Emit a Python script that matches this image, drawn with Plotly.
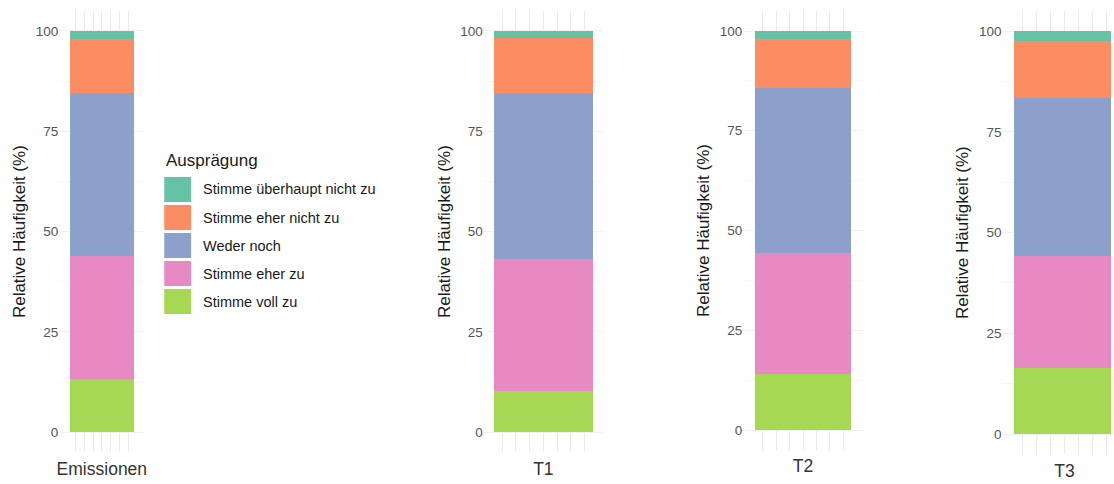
import plotly.graph_objects as go

# ---- data -------------------------------------------------------------
groups = ["Emissionen", "T1", "T2", "T3"]
categories = [
    "Stimme überhaupt nicht zu",
    "Stimme eher nicht zu",
    "Weder noch",
    "Stimme eher zu",
    "Stimme voll zu",
]
ueberhaupt_nicht = [2.1, 1.8, 2.1, 2.5]
eher_nicht = [13.4, 13.6, 12.1, 14.1]
weder_noch = [40.6, 41.4, 41.5, 39.1]
eher_zu = [30.7, 32.9, 30.3, 27.9]
voll_zu = [13.2, 10.3, 14.0, 16.4]
series = [ueberhaupt_nicht, eher_nicht, weder_noch, eher_zu, voll_zu]
y_ticks = [0, 25, 50, 75, 100]

# ---- styling ------------------------------------------------------------
colors = ["#66C2A5", "#FC8D62", "#8DA0CB", "#E78AC3", "#A6D854"]
FONT = "Liberation Sans, Arial, sans-serif"
W, H = 1114, 484
BAR_W = 0.9
GRID_V = "#EBEBEB"
GRID_H = "#F1F1F1"
GRID_H_MINOR = "#F7F7F7"

# panel geometry in pixels: bar left/right, panel left/right, value 100 / value 0 rows
panels_px = [
    dict(bl=68.3, br=132.3, pl=57.5, pr=143.0, top=31.0, zero=432.3),
    dict(bl=494.3, br=593.3, pl=484.0, pr=604.0, top=31.0, zero=432.3),
    dict(bl=756.0, br=853.3, pl=744.5, pr=864.5, top=31.0, zero=430.0),
    dict(bl=1016.5, br=1118.0, pl=1005.0, pr=1114.0, top=31.3, zero=434.0),
]


def fx(px):
    return px / W


def fy(py):
    return 1 - py / H


fig = go.Figure()
layout = dict(
    width=W, height=H,
    margin=dict(l=0, r=0, t=0, b=0, pad=0),
    paper_bgcolor="white", plot_bgcolor="white",
    barmode="stack", showlegend=False,
    font=dict(family=FONT),
)

for i, (name, g) in enumerate(zip(groups, panels_px)):
    k = "" if i == 0 else str(i + 1)
    # stack from bottom (Stimme voll zu) to top
    for cat, vals, col in reversed(list(zip(categories, series, colors))):
        fig.add_trace(go.Bar(
            x=[name], y=[vals[i]], name=cat, width=BAR_W,
            marker=dict(color=col, line=dict(width=0)),
            xaxis="x" + k, yaxis="y" + k, showlegend=False,
            hovertemplate=cat + ": %{y}%<extra></extra>",
        ))

    ppu = (g["br"] - g["bl"]) / BAR_W
    c = (g["bl"] + g["br"]) / 2
    xr = [(g["pl"] - c) / ppu, (g["pr"] - c) / ppu]
    s = (g["zero"] - g["top"]) / 100.0
    d_top = g["top"] - 5 * s
    d_bot = g["zero"] + 5 * s

    layout["xaxis" + k] = dict(
        domain=[fx(g["pl"]), min(1.0, fx(g["pr"]))],
        anchor="y" + k, type="category", range=xr,
        showgrid=False, zeroline=False, showline=False, ticks="",
        tickfont=dict(size=17.5, color="#333333", family=FONT),
        ticklabelstandoff=4,
        minor=dict(tickvals=[j * 0.125 for j in range(-3, 4)], showgrid=True,
                   gridcolor=GRID_V, gridwidth=1, ticks=""),
        fixedrange=True,
    )
    layout["yaxis" + k] = dict(
        domain=[fy(d_bot), fy(d_top)],
        anchor="x" + k, range=[-5, 105],
        tickvals=y_ticks, ticktext=[str(v) for v in y_ticks],
        tickfont=dict(size=13.5, color="#555555", family=FONT),
        showgrid=True, gridcolor=GRID_H, gridwidth=1,
        minor=dict(dtick=12.5, tick0=0, showgrid=True, gridcolor=GRID_H_MINOR,
                   gridwidth=0.6, ticks=""),
        zeroline=False, showline=False, ticks="",
        title=dict(text="Relative Häufigkeit (%)",
                   font=dict(size=17, color="#1A1A1A", family=FONT),
                   standoff=5),
        fixedrange=True,
    )

fig.update_layout(**layout)

# ---- legend (drawn beside the first panel) ---------------------------------
LEG_X, LEG_TITLE_Y = 163, 161
KEY_TOP, KEY_W, KEY_H, KEY_PITCH = 177, 27, 25, 28
TEXT_X = 200

fig.add_annotation(
    x=fx(LEG_X), y=fy(LEG_TITLE_Y), xref="paper", yref="paper",
    text="Ausprägung", showarrow=False, xanchor="left", yanchor="middle",
    font=dict(size=17, color="#1A1A1A", family=FONT),
)
for j, (cat, col) in enumerate(zip(categories, colors)):
    y0 = KEY_TOP + j * KEY_PITCH
    fig.add_shape(
        type="rect", xref="paper", yref="paper",
        x0=fx(LEG_X), x1=fx(LEG_X + KEY_W), y0=fy(y0 + KEY_H), y1=fy(y0),
        fillcolor=col, line=dict(width=0), layer="above",
    )
    fig.add_annotation(
        x=fx(TEXT_X), y=fy(y0 + KEY_H / 2), xref="paper", yref="paper",
        text=cat, showarrow=False, xanchor="left", yanchor="middle",
        font=dict(size=14.5, color="#1A1A1A", family=FONT),
    )

fig.write_html("out.html")
